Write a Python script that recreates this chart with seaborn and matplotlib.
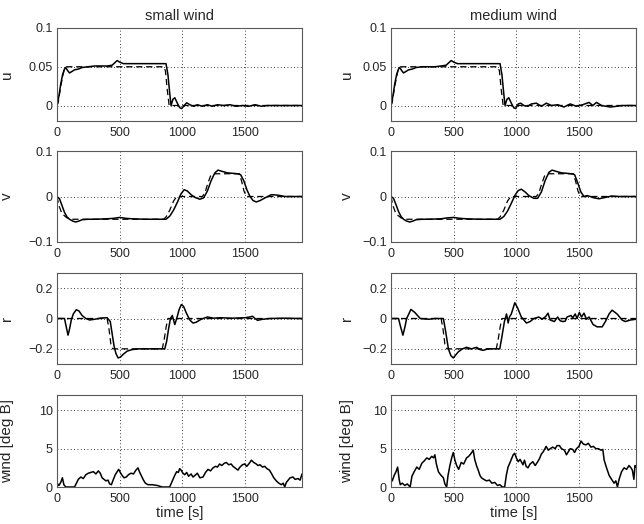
import matplotlib
matplotlib.use("Agg")
import matplotlib.pyplot as plt
import seaborn as sns
import pandas as pd

# --- data (time [s], value) ---
u_ref = [(0, 0), (10, 0.004), (30, 0.025), (55, 0.045), (75, 0.05), (850, 0.05),
         (865, 0.045), (880, 0.02), (895, 0), (1955, 0)]
u_small = [(0, 0), (15, 0.012), (30, 0.028), (45, 0.04), (60, 0.047), (70, 0.049), (85, 0.045),
           (100, 0.042), (120, 0.044), (140, 0.046), (170, 0.047), (200, 0.049), (250, 0.05),
           (300, 0.051), (350, 0.051), (400, 0.051), (440, 0.052), (460, 0.055), (480, 0.058),
           (500, 0.056), (530, 0.054), (560, 0.054), (650, 0.054), (750, 0.054), (870, 0.054),
           (885, 0.04), (900, 0.015), (910, 0.0), (925, 0.008), (940, 0.01), (960, 0.003),
           (980, -0.003), (995, -0.004), (1015, 0.0), (1035, 0.0035), (1060, 0.001),
           (1090, -0.001), (1120, 0.001), (1160, -0.001), (1200, 0.001), (1240, -0.001),
           (1280, 0.001), (1330, 0.0), (1380, 0.001), (1430, -0.001), (1480, 0.0),
           (1530, -0.001), (1580, 0.001), (1630, -0.001), (1680, 0), (1750, 0), (1955, 0)]
u_medium = [(0, 0), (15, 0.012), (30, 0.028), (45, 0.04), (60, 0.047), (70, 0.049), (85, 0.045),
            (100, 0.042), (120, 0.044), (140, 0.046), (170, 0.047), (200, 0.049), (250, 0.05),
            (300, 0.05), (350, 0.05), (400, 0.051), (440, 0.052), (460, 0.055), (480, 0.058),
            (500, 0.056), (530, 0.054), (560, 0.054), (650, 0.054), (750, 0.054), (870, 0.054),
            (885, 0.04), (900, 0.015), (910, 0.0), (925, 0.008), (940, 0.01), (960, 0.003),
            (980, -0.003), (995, -0.004), (1015, 0.002), (1035, 0.003), (1060, 0.0),
            (1090, -0.001), (1120, 0.002), (1160, 0.003), (1200, -0.001), (1240, 0.003),
            (1280, 0.0), (1330, 0.001), (1380, -0.002), (1430, 0.002), (1480, -0.001),
            (1530, 0.001), (1580, 0.004), (1610, 0.0), (1640, 0.004), (1680, 0.0),
            (1750, -0.002), (1850, 0.0), (1955, 0)]

v_ref = [(0, 0), (15, -0.02), (40, -0.038), (80, -0.047), (120, -0.05), (850, -0.05),
         (870, -0.045), (900, -0.03), (930, -0.01), (955, 0), (1160, 0), (1180, 0.008),
         (1205, 0.03), (1225, 0.045), (1245, 0.05), (1455, 0.05), (1472, 0.035),
         (1492, 0.012), (1512, 0), (1955, 0)]
v_small = [(0, 0), (20, -0.005), (40, -0.02), (60, -0.035), (80, -0.045), (100, -0.05),
           (125, -0.054), (150, -0.056), (175, -0.054), (200, -0.051), (250, -0.05),
           (300, -0.05), (400, -0.049), (450, -0.048), (500, -0.046), (550, -0.048),
           (600, -0.049), (700, -0.05), (800, -0.05), (870, -0.05), (900, -0.043),
           (930, -0.03), (960, -0.013), (990, 0.006), (1015, 0.015), (1040, 0.012),
           (1070, 0.004), (1100, -0.002), (1140, -0.006), (1170, -0.003), (1200, 0.012),
           (1230, 0.035), (1260, 0.052), (1285, 0.058), (1320, 0.055), (1360, 0.052),
           (1400, 0.051), (1440, 0.05), (1465, 0.048), (1490, 0.035), (1515, 0.015),
           (1540, 0.0), (1565, -0.009), (1590, -0.012), (1620, -0.009), (1660, -0.003),
           (1710, 0.004), (1760, 0.003), (1820, 0.0), (1900, 0.0), (1955, 0.0)]
v_medium = [(0, 0), (20, -0.004), (40, -0.018), (60, -0.033), (80, -0.044), (100, -0.05),
            (125, -0.054), (150, -0.056), (175, -0.054), (200, -0.051), (250, -0.05),
            (300, -0.05), (400, -0.049), (450, -0.047), (500, -0.046), (550, -0.048),
            (600, -0.049), (700, -0.05), (800, -0.05), (870, -0.05), (900, -0.044),
            (930, -0.032), (960, -0.015), (990, 0.003), (1015, 0.013), (1040, 0.016),
            (1070, 0.01), (1100, 0.002), (1140, -0.004), (1170, -0.004), (1200, 0.01),
            (1230, 0.035), (1260, 0.053), (1285, 0.058), (1320, 0.055), (1360, 0.052),
            (1400, 0.051), (1440, 0.05), (1465, 0.048), (1490, 0.03), (1515, 0.01),
            (1540, 0.0), (1565, 0.002), (1590, 0.0), (1620, -0.003), (1660, -0.005),
            (1710, -0.002), (1760, 0.001), (1820, 0.0), (1900, 0.0), (1955, 0.0)]

r_ref = [(0, 0), (400, 0), (415, -0.07), (430, -0.17), (445, -0.2), (840, -0.2),
         (855, -0.14), (870, -0.06), (885, 0), (1955, 0)]
r_small = [(0, 0), (60, 0), (75, -0.06), (88, -0.11), (100, -0.07), (114, -0.01), (130, 0.03),
           (154, 0.058), (175, 0.05), (200, 0.02), (230, 0.0), (260, -0.01), (300, -0.005),
           (350, 0.003), (400, 0.005), (425, -0.02), (440, -0.1), (455, -0.18), (470, -0.23),
           (487, -0.26), (505, -0.255), (530, -0.235), (560, -0.215), (600, -0.205),
           (650, -0.2), (700, -0.2), (800, -0.2), (860, -0.2), (875, -0.15), (890, -0.07),
           (905, 0.0), (920, 0.02), (930, -0.01), (940, -0.04), (955, 0.0), (975, 0.06),
           (992, 0.092), (1010, 0.08), (1030, 0.04), (1060, -0.01), (1085, -0.03),
           (1110, -0.025), (1150, -0.005), (1200, 0.01), (1250, 0.002), (1300, 0.005),
           (1400, 0.002), (1500, 0.005), (1540, 0.01), (1560, 0.015), (1580, 0.0),
           (1600, -0.012), (1640, -0.005), (1700, 0.0), (1800, 0.002), (1955, 0.0)]
r_medium = [(0, 0), (60, 0), (75, -0.05), (95, -0.11), (110, -0.06), (125, 0.0), (159, 0.06),
            (190, 0.04), (233, 0.0), (300, -0.005), (350, 0.0), (418, 0.0), (435, -0.08),
            (458, -0.2), (478, -0.245), (497, -0.26), (517, -0.24), (537, -0.22), (570, -0.2),
            (603, -0.19), (643, -0.2), (683, -0.19), (710, -0.205), (735, -0.21), (775, -0.2),
            (815, -0.2), (868, -0.2), (885, -0.12), (905, -0.02), (922, 0.03), (935, -0.03),
            (945, 0.01), (960, 0.03), (988, 0.104), (1010, 0.07), (1040, 0.01), (1081, -0.03),
            (1110, -0.02), (1141, 0.0), (1180, 0.01), (1205, -0.005), (1233, 0.012),
            (1253, 0.035), (1270, -0.01), (1304, -0.02), (1330, 0.01), (1350, -0.015),
            (1370, -0.02), (1390, -0.018), (1405, 0.01), (1436, 0.02), (1450, 0.005),
            (1470, 0.03), (1485, 0.0), (1503, 0.04), (1520, 0.01), (1540, 0.035),
            (1560, -0.005), (1580, 0.01), (1613, -0.04), (1645, -0.055), (1685, -0.055),
            (1711, -0.02), (1740, 0.03), (1764, 0.055), (1804, 0.03), (1844, -0.01),
            (1870, -0.02), (1910, -0.01), (1955, -0.005)]

wind_small = [(0, 0.5), (15, 0.2), (30, 0.6), (43, 1.2), (55, 0.3), (70, 0.0), (100, 0.0),
              (140, 0.0), (155, 0.5), (170, 1.0), (190, 1.3), (210, 1.1), (230, 1.6),
              (250, 1.8), (270, 1.9), (290, 2.0), (310, 1.7), (330, 2.1), (345, 1.8),
              (360, 1.2), (375, 1.0), (390, 0.8), (407, 0.9), (420, 0.4), (434, 0.3),
              (450, 1.0), (465, 1.6), (480, 2.0), (492, 2.3), (505, 1.9), (520, 1.5),
              (535, 1.2), (553, 1.3), (570, 1.6), (590, 1.8), (610, 1.7), (630, 2.2),
              (646, 2.5), (660, 1.9), (675, 1.4), (690, 0.9), (705, 0.5), (726, 0.3),
              (760, 0.3), (800, 0.2), (840, 0.0), (870, 0.0), (899, 0.0), (915, 0.6),
              (939, 1.5), (955, 2.0), (968, 1.9), (979, 2.4), (990, 2.2), (1005, 1.8),
              (1019, 1.6), (1035, 1.9), (1050, 1.4), (1070, 1.7), (1085, 1.3), (1100, 1.5),
              (1120, 1.8), (1140, 1.2), (1165, 1.3), (1185, 1.9), (1205, 2.3), (1225, 2.1),
              (1245, 2.5), (1265, 2.7), (1280, 2.6), (1298, 3.0), (1315, 2.8), (1335, 3.1),
              (1351, 3.2), (1370, 2.9), (1390, 3.0), (1404, 2.7), (1420, 2.5), (1444, 2.2),
              (1460, 2.6), (1480, 2.9), (1497, 3.0), (1515, 2.7), (1535, 3.1), (1551, 3.5),
              (1570, 3.2), (1590, 3.0), (1604, 2.8), (1620, 2.9), (1640, 2.6), (1657, 2.7),
              (1675, 2.4), (1695, 2.2), (1710, 1.8), (1730, 1.2), (1750, 0.8), (1770, 0.5),
              (1790, 0.3), (1805, 0.5), (1817, 0.0), (1830, 0.6), (1845, 0.9), (1860, 1.2),
              (1883, 1.3), (1900, 1.0), (1923, 1.1), (1940, 0.9), (1955, 1.7)]
wind_medium = [(0, 1.2), (10, 0.8), (25, 1.5), (40, 2.0), (53, 2.6), (65, 1.0), (74, 0.3),
               (90, 0.5), (110, 0.2), (130, 0.4), (153, 0.0), (167, 1.4), (185, 2.0),
               (206, 2.6), (225, 2.3), (246, 3.1), (265, 3.4), (286, 3.8), (305, 3.6),
               (325, 4.0), (339, 3.8), (350, 4.2), (362, 3.0), (378, 2.0), (395, 1.6),
               (418, 1.2), (430, 0.4), (444, 0.0), (455, 1.5), (470, 2.8), (484, 3.8),
               (497, 4.5), (510, 3.5), (524, 2.8), (540, 2.3), (560, 3.2), (580, 3.0),
               (603, 3.8), (620, 4.0), (640, 4.4), (656, 4.8), (668, 3.6), (682, 2.8),
               (696, 2.2), (710, 1.5), (722, 1.2), (740, 1.0), (762, 0.8), (785, 0.9),
               (805, 0.5), (828, 0.6), (850, 0.2), (868, 0.3), (890, 0.0), (907, 0.0),
               (920, 1.5), (934, 2.6), (950, 3.2), (965, 3.8), (975, 4.2), (987, 4.4),
               (1000, 3.8), (1015, 3.3), (1030, 3.6), (1053, 2.9), (1065, 3.5), (1078, 2.7),
               (1093, 2.5), (1110, 3.0), (1132, 3.3), (1150, 2.8), (1167, 3.2), (1185, 3.7),
               (1200, 4.3), (1215, 4.6), (1238, 5.3), (1255, 4.8), (1270, 5.0), (1291, 5.2),
               (1310, 5.0), (1325, 5.4), (1344, 5.4), (1360, 5.0), (1384, 4.8), (1400, 4.2),
               (1415, 4.6), (1430, 5.0), (1450, 4.9), (1465, 4.5), (1480, 5.0), (1500, 5.3),
               (1516, 6.0), (1535, 5.6), (1556, 5.5), (1575, 5.7), (1595, 5.2), (1615, 5.3),
               (1635, 5.0), (1655, 5.0), (1675, 4.8), (1690, 4.9), (1701, 3.5), (1720, 2.5),
               (1741, 1.5), (1760, 1.0), (1780, 0.5), (1794, 0.8), (1807, 0.0), (1820, 1.0),
               (1840, 2.0), (1860, 2.5), (1880, 2.3), (1899, 2.8), (1915, 2.5), (1926, 2.2),
               (1938, 1.0), (1947, 2.8), (1955, 2.6)]

titles = ["small wind", "medium wind"]
ylabels = ["u", "v", "r", "wind [deg B]"]
ylims = [(-0.02, 0.1), (-0.1, 0.1), (-0.3, 0.3), (0, 12)]
yticks = [[0, 0.05, 0.1], [-0.1, 0, 0.1], [-0.2, 0, 0.2], [0, 5, 10]]
yticklabels = [["0", "0.05", "0.1"], ["\u22120.1", "0", "0.1"], ["\u22120.2", "0", "0.2"], ["0", "5", "10"]]
xticks = [0, 500, 1000, 1500]

solid = [[u_small, u_medium], [v_small, v_medium], [r_small, r_medium], [wind_small, wind_medium]]
dashed = [u_ref, v_ref, r_ref, None]

sns.set_style("white")
plt.rcParams['font.family'] = ['Liberation Sans', 'DejaVu Sans']

fig = plt.figure(figsize=(6.44, 5.24), dpi=100)
lefts = [57 / 644, 391 / 644]
width = 245 / 644
rows_px = [(28, 121), (151, 242), (273, 364), (395, 487)]

for i, (top, bot) in enumerate(rows_px):
    for j in range(2):
        ax = fig.add_axes([lefts[j], 1 - bot / 524, width, (bot - top) / 524])
        if dashed[i] is not None:
            d = pd.DataFrame(dashed[i], columns=["t", "y"])
            sns.lineplot(data=d, x="t", y="y", ax=ax, color="k", lw=0.9,
                         linestyle=(0, (5, 3)), estimator=None)
        s = pd.DataFrame(solid[i][j], columns=["t", "y"])
        sns.lineplot(data=s, x="t", y="y", ax=ax, color="k", lw=1.1, estimator=None)

        ax.set_xlim(0, 1955)
        ax.set_ylim(*ylims[i])
        ax.set_xticks(xticks)
        ax.set_xticklabels([str(x) for x in xticks])
        ax.set_yticks(yticks[i])
        ax.set_yticklabels(yticklabels[i])
        ax.tick_params(direction="in", length=3, labelsize=9, color="0.3", pad=3)
        ax.tick_params(axis="x", pad=4)
        ax.grid(True, color="k", linestyle=(0, (1, 3)), lw=0.6)
        for sp in ax.spines.values():
            sp.set_color("0.35")
            sp.set_linewidth(0.8)
        ax.set_ylabel(ylabels[i], fontsize=11)
        ax.yaxis.set_label_coords(-0.175 if j == 0 else -0.15, 0.5)
        if i == 3:
            ax.set_xlabel("time [s]", fontsize=10.5, labelpad=1)
        else:
            ax.set_xlabel("")
        if i == 0:
            ax.set_title(titles[j], fontsize=10.5, pad=6)

fig.savefig("out.png", dpi=100)
